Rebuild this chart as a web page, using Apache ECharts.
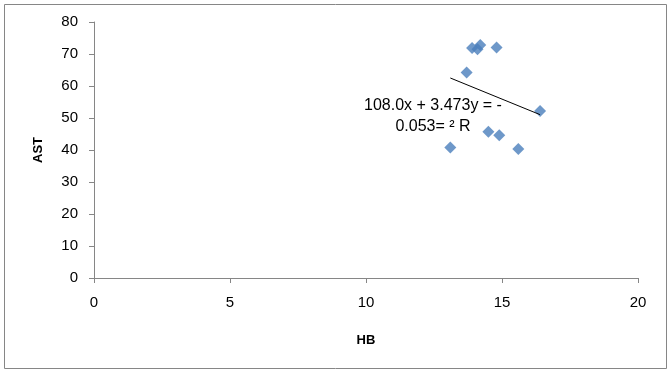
<!DOCTYPE html>
<html>
<head>
<meta charset="utf-8">
<script src="https://cdn.jsdelivr.net/npm/echarts@6/dist/echarts.min.js"></script>
<style>
  html, body { margin: 0; padding: 0; background: #fff; }
  #chart { width: 671px; height: 374px; }
</style>
</head>
<body>
<div id="chart"></div>
<script>
// HB vs AST
var hb  = [13.9, 14.2, 14.1, 14.8, 13.7, 16.4, 14.5, 14.9, 13.1, 15.6];
var ast = [71.9, 72.8, 71.5, 72.0, 64.2, 52.2, 45.7, 44.6, 40.8, 40.3];

// linear trendline as printed on the chart
var slope = -3.473;
var intercept = 108.0;
var trendText = '108.0x + 3.473y = -\n0.053= \u00b2 R';

var xTicks = [0, 5, 10, 15, 20];
var yTicks = [0, 10, 20, 30, 40, 50, 60, 70, 80];

var points = hb.map(function (x, i) { return [x, ast[i]]; });
var xMin = Math.min.apply(null, hb);
var xMax = Math.max.apply(null, hb);
var trend = [[xMin, slope * xMin + intercept], [xMax, slope * xMax + intercept]];

var axisGray = '#868686';
var font = '"Liberation Sans", Arial, sans-serif';

var myChart = echarts.init(document.getElementById('chart'));
myChart.setOption({
  animation: false,
  backgroundColor: '#fff',
  grid: { left: 94, right: 33, top: 22, bottom: 96 },
  xAxis: {
    type: 'value',
    min: xTicks[0],
    max: xTicks[xTicks.length - 1],
    interval: 5,
    name: 'HB',
    nameLocation: 'middle',
    nameGap: 56,
    nameTextStyle: { color: '#000', fontWeight: 'bold', fontSize: 13, fontFamily: font },
    axisLine: { lineStyle: { color: axisGray } },
    axisTick: { show: true, length: 5, lineStyle: { color: axisGray } },
    axisLabel: { color: '#000', fontSize: 15, fontFamily: font, margin: 17 },
    splitLine: { show: false }
  },
  yAxis: {
    type: 'value',
    min: yTicks[0],
    max: yTicks[yTicks.length - 1],
    interval: 10,
    name: 'AST',
    nameLocation: 'middle',
    nameGap: 49,
    nameRotate: 90,
    nameTextStyle: { color: '#000', fontWeight: 'bold', fontSize: 13, fontFamily: font },
    axisLine: { show: true, lineStyle: { color: axisGray } },
    axisTick: { show: true, length: 5, lineStyle: { color: axisGray } },
    axisLabel: { color: '#000', fontSize: 15, fontFamily: font, margin: 16 },
    splitLine: { show: false }
  },
  graphic: [
    {
      type: 'rect',
      shape: { x: 4.5, y: 4.5, width: 662, height: 364 },
      style: { fill: 'none', stroke: axisGray, lineWidth: 1 },
      z: -1
    },
    {
      type: 'text',
      x: 433,
      y: 95,
      style: {
        text: trendText,
        fill: '#000',
        font: '16px ' + font,
        lineHeight: 21,
        align: 'center',
        verticalAlign: 'top'
      },
      z: 10
    }
  ],
  series: [
    {
      type: 'scatter',
      data: points,
      symbol: 'diamond',
      symbolSize: 12,
      itemStyle: { color: '#4A7EBB' },
      z: 3
    },
    {
      type: 'line',
      data: trend,
      symbol: 'none',
      lineStyle: { color: '#000', width: 1 },
      z: 4
    }
  ]
});
</script>
</body>
</html>
